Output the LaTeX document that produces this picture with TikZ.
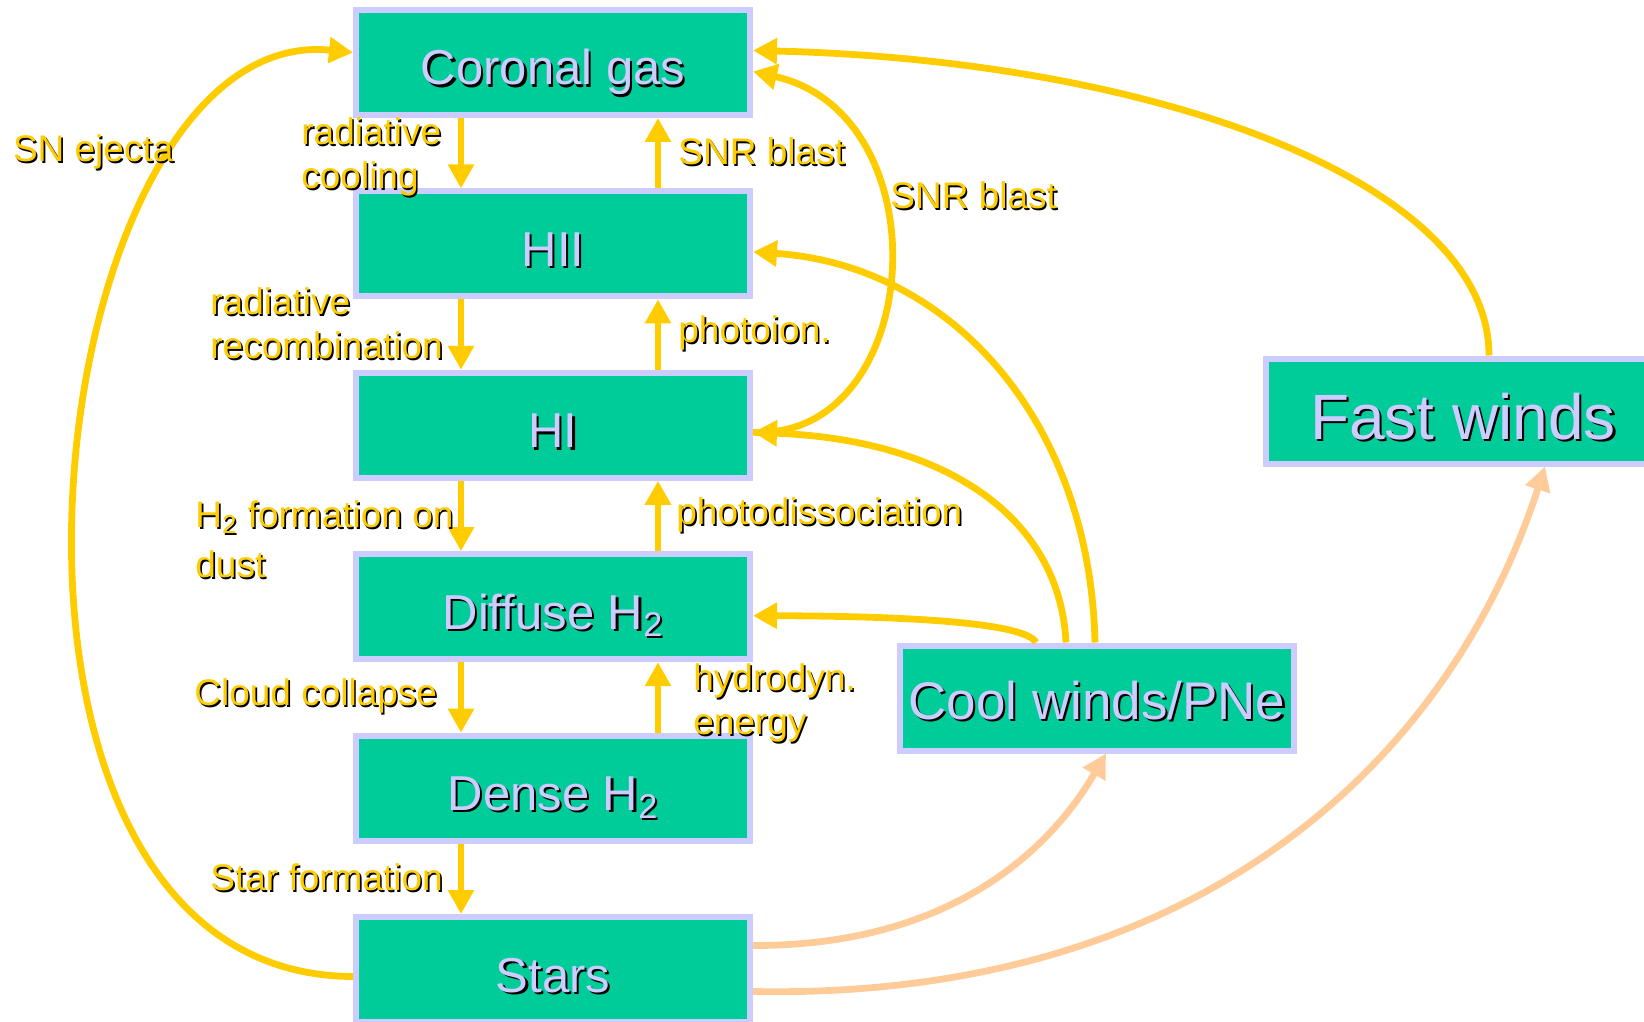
\documentclass[tikz,border=0pt]{standalone}
\usepackage{fontspec}
\setmainfont{Liberation Sans}
\usetikzlibrary{positioning, arrows.meta}

\definecolor{phasegreen}{HTML}{00CC99}
\definecolor{phaseedge}{HTML}{CCCCFF}
\definecolor{flowyellow}{HTML}{FFCC00}
\definecolor{windpeach}{HTML}{FFCC99}

% text with a dark drop shadow
\newcommand{\shtxt}[3]{\leavevmode\rlap{\hspace*{#3}\raisebox{-#3}{\color{black}#2}}{\color{#1}#2}}
\newcommand{\boxtxt}[1]{\shtxt{phaseedge}{#1}{1.1pt}}
\newcommand{\lbltxt}[1]{\shtxt{flowyellow}{#1}{0.8pt}}

\begin{document}
\begin{tikzpicture}[
        x=0.5pt, y=-0.5pt,
        node distance=35.2pt,
        phase/.style={
            rectangle,
            draw=phaseedge,
            fill=phasegreen,
            line width=3pt,
            minimum width=197pt,
            minimum height=52.5pt,
            inner sep=0pt,
            text height=22.5pt,
            text depth=0pt,
            font=\fontsize{24.5}{28}\selectfont
        },
        lbl/.style={
            anchor=west,
            align=left,
            inner sep=0pt,
            font=\fontsize{18.5}{22}\selectfont
        },
        flow/.style={
            -{Triangle[width=12.5pt,length=12pt]},
            line width=3.4pt,
            draw=flowyellow
        },
        windflow/.style={
            -{Triangle[width=12.5pt,length=12pt]},
            line width=3.4pt,
            draw=windpeach
        }
    ]
    \useasboundingbox (0,0) rectangle (1644,1022);

    % phases of the interstellar medium
    \node[phase] (cor) at (553,62.5) {\boxtxt{Coronal gas}};
    \node[phase] (hii) [below=of cor] {\boxtxt{HII}};
    \node[phase] (hi) [below=of hii] {\boxtxt{HI}};
    \node[phase] (dif) [below=of hi] {\boxtxt{Diffuse H\textsubscript{2}}};
    \node[phase] (dense) [below=of dif] {\boxtxt{Dense H\textsubscript{2}}};
    \node[phase] (stars) [below=of dense] {\boxtxt{Stars}};
    \node[phase, text height=21pt, font=\fontsize{26.5}{30}\selectfont] (cool) at (1097,698) {\boxtxt{Cool winds/PNe}};
    \node[phase, text height=28pt, font=\fontsize{32}{36}\selectfont] (fast) at (1463,411) {\boxtxt{Fast winds}};

    % downward: cooling and collapse
    \draw[flow] ([xshift=-46pt]cor.south) -- ([xshift=-46pt]hii.north);
    \draw[flow] ([xshift=-46pt]hii.south) -- ([xshift=-46pt]hi.north);
    \draw[flow] ([xshift=-46pt]hi.south) -- ([xshift=-46pt]dif.north);
    \draw[flow] ([xshift=-46pt]dif.south) -- ([xshift=-46pt]dense.north);
    \draw[flow] ([xshift=-46pt]dense.south) -- ([xshift=-46pt]stars.north);

    % upward: heating
    \draw[flow] ([xshift=52.5pt]hii.north) -- ([xshift=52.5pt]cor.south);
    \draw[flow] ([xshift=52.5pt]hi.north) -- ([xshift=52.5pt]hii.south);
    \draw[flow] ([xshift=52.5pt]dif.north) -- ([xshift=52.5pt]hi.south);
    \draw[flow] ([xshift=52.5pt]dense.north) -- ([xshift=52.5pt]dif.south);

    % feedback loops
    \draw[flow] ([yshift=-3.5pt]stars.west) .. controls (-70,975) and (35,20) .. ([yshift=5pt]cor.west);
    \draw[flow] ([xshift=13pt]fast.north) .. controls (1489,180) and (1150,60) .. ([yshift=6pt]cor.east);
    \draw[flow] ([yshift=-3.5pt]hi.east) .. controls (925,440) and (945,115) .. ([yshift=-4.5pt]cor.east);
    \draw[flow] ([xshift=-1pt]cool.north) .. controls (1090,420) and (950,265) .. ([yshift=-4pt]hii.east);
    \draw[flow] ([xshift=-15.5pt]cool.north) .. controls (1060,520) and (950,440) .. ([yshift=-3.5pt]hi.east);
    \draw[flow] ([xshift=-30.5pt]cool.north) .. controls (1025,622) and (900,616) .. ([yshift=-4.5pt]dif.east);
    \draw[windflow] ([yshift=12pt]stars.east) .. controls (950,946) and (1050,850) .. ([xshift=4.5pt]cool.south);
    \draw[windflow] ([yshift=-11pt]stars.east) .. controls (1200,1000) and (1450,760) .. ([xshift=41pt]fast.south);

    % process labels
    \node[lbl] (lblsn) at (12.6,153) {\lbltxt{SN ejecta}};
    \node[lbl] (lblcool) at (301,158) {\lbltxt{radiative}\\\lbltxt{cooling}};
    \node[lbl] (lblsnr) at (678,152) {\lbltxt{SNR blast}};
    \node[lbl] (lblsnrb) at (890,196) {\lbltxt{SNR blast}};
    \node[lbl] (lblrec) at (210,324) {\lbltxt{radiative}\\\lbltxt{recombination}};
    \node[lbl] (lblion) at (678,334) {\lbltxt{photoion.}};
    \node[lbl] (lblform) at (195,540) {\lbltxt{H\textsubscript{2} formation on}\\[3pt]\lbltxt{dust}};
    \node[lbl] (lbldis) at (676,516) {\lbltxt{photodissociation}};
    \node[lbl] (lblcoll) at (194,697) {\lbltxt{Cloud collapse}};
    \node[lbl] (lblhyd) at (693,704) {\lbltxt{hydrodyn.}\\\lbltxt{energy}};
    \node[lbl] (lblstar) at (210,878) {\lbltxt{Star formation}};

\end{tikzpicture}
\end{document}
